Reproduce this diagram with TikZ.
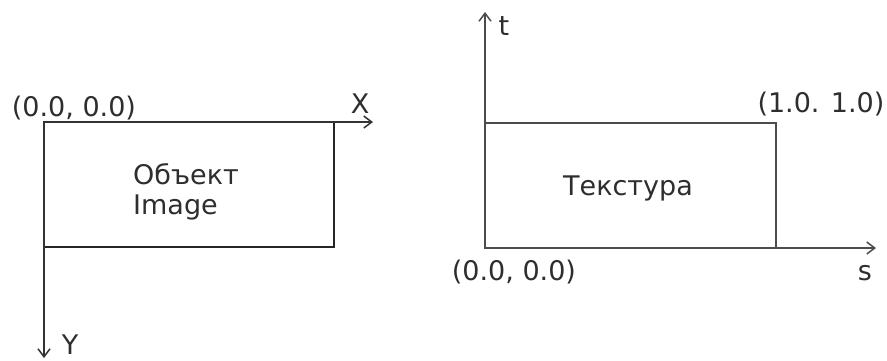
\documentclass[tikz,border=0pt]{standalone}
\usepackage{fontspec}
\setmainfont{DejaVu Sans}
\usetikzlibrary{arrows.meta}
\begin{document}
\begin{tikzpicture}[x=1pt,y=-1pt,
  txt/.style={inner sep=0pt,text=black!82,font=\fontsize{27}{29.5}\selectfont},
  frame/.style={line width=1.8pt,draw=black!85},
  axis/.style={line width=1.8pt,draw=black!80,-{Straight Barb[length=8pt,width=12pt,line width=1.5pt]}}]
  \useasboundingbox (0,0) rectangle (887,360);

  % screen space: origin top left, X to the right, Y downwards
  \coordinate (o1) at (44,122);
  \coordinate (c1) at (334,247);
  \coordinate (xend) at (373,122);
  \coordinate (yend) at (44,358);
  \draw[frame] (o1) rectangle (c1);
  \draw[axis] (o1) -- (xend);
  \draw[axis] (o1) -- (yend);
  \node[txt] (o1lab) at (74,108) {(0.0, 0.0)};
  \node[txt] (xlab) at (360,104) {X};
  \node[txt] (ylab) at (70,345) {Y};
  \node[txt,align=left,anchor=west] (obj) at (133,192) {Объект\\Image};

  % texture space: origin bottom left, s to the right, t upwards
  \coordinate (o2) at (485,248);
  \coordinate (c2) at (776,123);
  \coordinate (send) at (876,248);
  \coordinate (tend) at (485,12);
  \draw[frame,draw=black!70] (o2) rectangle (c2);
  \draw[axis,draw=black!70] (o2) -- (send);
  \draw[axis,draw=black!70] (o2) -- (tend);
  \node[txt] (o2lab) at (514,272) {(0.0, 0.0)};
  \node[txt] (c2lab) at (821,104) {(1.0. 1.0)};
  \node[txt] (slab) at (865,273) {s};
  \node[txt] (tlab) at (504,26) {t};
  \node[txt] (tex) at (628,188) {Текстура};
\end{tikzpicture}
\end{document}
